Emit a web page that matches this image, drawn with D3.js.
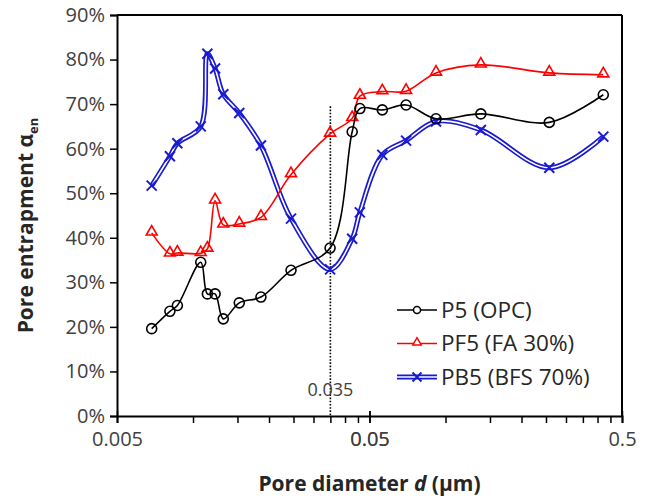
<!DOCTYPE html>
<html>
<head>
<meta charset="utf-8">
<script src="https://cdn.jsdelivr.net/npm/d3@7"></script>
<style>
  body { margin: 0; background: #fff; }
  text { font-family: "Open Sans", "Noto Sans", sans-serif; }
</style>
</head>
<body>
<div id="chart"></div>
<script>
// pore diameters (µm), same for all three series
var diameters = [0.00686, 0.0081, 0.00867, 0.01073, 0.0114, 0.01223, 0.01318, 0.01525, 0.01858,
  0.02444, 0.0349, 0.0427, 0.0458, 0.0562, 0.0698, 0.0917, 0.138, 0.2576, 0.4216]

// pore entrapment in %
var p5 = [19.6, 23.5, 24.8, 34.5, 27.4, 27.4, 21.8, 25.4, 26.7, 32.7, 37.7, 63.8, 69.0, 68.7, 69.8, 66.7, 67.8, 65.9, 72.1]
var pf5 = [41.1, 36.4, 36.6, 36.5, 37.5, 48.3, 42.9, 43.1, 44.6, 54.2, 63.3, 66.8, 71.8, 72.8, 72.9, 77.0, 78.8, 77.0, 76.6]
var pb5 = [51.7, 58.3, 61.2, 65.0, 81.3, 78.0, 72.2, 68.0, 60.7, 44.3, 32.9, 39.8, 45.7, 58.6, 61.8, 66.1, 64.2, 55.7, 62.7]

var yTicks = [0, 10, 20, 30, 40, 50, 60, 70, 80, 90]
var xLabels = [0.005, 0.05, 0.5]
var seriesNames = ["P5 (OPC)", "PF5 (FA 30%)", "PB5 (BFS 70%)"]
var markLine = 0.035

var MARGIN = {TOP: 15, RIGHT: 29, BOTTOM: 82, LEFT: 117},
  WIDTH = 651 - MARGIN.LEFT - MARGIN.RIGHT,
  HEIGHT = 498 - MARGIN.TOP - MARGIN.BOTTOM;

var svg = d3.select("#chart").append("svg")
  .attr("width", 651)
  .attr("height", 498)
  .append("g")
  .attr("transform", "translate(" + MARGIN.LEFT + "," + MARGIN.TOP + ")");

var x = d3.scaleLog().domain([0.005, 0.5]).range([0, WIDTH])
var y = d3.scaleLinear().domain([0, 90]).range([HEIGHT, 0])

// minor ticks every 0.005 / 0.05 like excel log axis
var minor = []
;[0.005, 0.05].forEach(function(b){
  for (var k = 1; k <= 10; k++) minor.push(+(b * k).toPrecision(3))
})

// frame
svg.append("line").attr("x1", 0).attr("x2", WIDTH).attr("y1", 0).attr("y2", 0)
  .style("stroke", "#000").style("stroke-width", 2)
svg.append("line").attr("x1", WIDTH).attr("x2", WIDTH).attr("y1", 0).attr("y2", HEIGHT)
  .style("stroke", "#000").style("stroke-width", 2)

// y axis
var yAxis = svg.append("g")
  .call(d3.axisLeft(y).tickValues(yTicks).tickSize(7).tickPadding(5).tickFormat(function(d){ return d + "%" }))
yAxis.select(".domain").style("stroke", "#000").style("stroke-width", 2)
yAxis.selectAll(".tick line").style("stroke", "#000").style("stroke-width", 1.5)
yAxis.selectAll(".tick text").style("font-size", "20px").style("fill", "#404040")
  .style("font-family", "'Open Sans', sans-serif")

// x axis
var xAxis = svg.append("g")
  .attr("transform", "translate(0," + HEIGHT + ")")
  .call(d3.axisBottom(x).tickValues(minor).tickSize(7).tickPadding(9)
    .tickFormat(function(d){ return xLabels.indexOf(d) >= 0 ? d : "" }))
xAxis.select(".domain").style("stroke", "#000").style("stroke-width", 2)
xAxis.selectAll(".tick line").style("stroke", "#000").style("stroke-width", 1.5)
xAxis.selectAll(".tick text").style("font-size", "20px").style("fill", "#404040")
  .style("font-family", "'Open Sans', sans-serif")
// major ticks cross the axis
xAxis.selectAll(".tick").filter(function(d){ return xLabels.indexOf(d) >= 0 })
  .select("line").attr("y1", -5)

// dotted marker line at 0.035
svg.append("line")
  .attr("x1", x(markLine)).attr("x2", x(markLine))
  .attr("y1", y(69.5)).attr("y2", HEIGHT)
  .style("stroke", "#000").style("stroke-width", 1.6).style("stroke-dasharray", "1.6,1.6")
svg.append("text")
  .attr("x", x(markLine)).attr("y", y(4.6))
  .attr("text-anchor", "middle")
  .style("font-size", "18px").style("fill", "#404040")
  .text(markLine)

var line = d3.line()
  .x(function(d){ return x(d[0]) })
  .y(function(d){ return y(d[1]) })
  .curve(d3.curveCatmullRom.alpha(0.5))

function pts(vals){ return diameters.map(function(d, i){ return [d, vals[i]] }) }

var tri = d3.symbol().type(d3.symbolTriangle).size(52)

// PB5 - double blue line with x markers
svg.append("path").datum(pts(pb5)).attr("d", line)
  .style("fill", "none").style("stroke", "#1a1ad0").style("stroke-width", 5)
svg.append("path").datum(pts(pb5)).attr("d", line)
  .style("fill", "none").style("stroke", "#fff").style("stroke-width", 1.6)
svg.selectAll(".xmark").data(pts(pb5)).enter().append("path")
  .attr("class", "xmark")
  .attr("d", "M-5,-5L5,5M-5,5L5,-5")
  .attr("transform", function(d){ return "translate(" + x(d[0]) + "," + y(d[1]) + ")" })
  .style("stroke", "#1a1ad0").style("stroke-width", 2).style("fill", "none")

// PF5 - red triangles
svg.append("path").datum(pts(pf5)).attr("d", line)
  .style("fill", "none").style("stroke", "#ff0000").style("stroke-width", 1.6)
svg.selectAll(".tri").data(pts(pf5)).enter().append("path")
  .attr("class", "tri")
  .attr("d", tri)
  .attr("transform", function(d){ return "translate(" + x(d[0]) + "," + (y(d[1]) - 1) + ")" })
  .style("stroke", "#ff0000").style("stroke-width", 1.6).style("fill", "none")

// P5 - black circles
svg.append("path").datum(pts(p5)).attr("d", line)
  .style("fill", "none").style("stroke", "#000").style("stroke-width", 1.6)
svg.selectAll(".circ").data(pts(p5)).enter().append("circle")
  .attr("class", "circ")
  .attr("cx", function(d){ return x(d[0]) })
  .attr("cy", function(d){ return y(d[1]) })
  .attr("r", 5)
  .style("stroke", "#000").style("stroke-width", 1.6).style("fill", "none")

// legend
var legend = svg.append("g").attr("transform", "translate(" + (397 - MARGIN.LEFT) + "," + (310 - MARGIN.TOP) + ")")
seriesNames.forEach(function(name, i){
  var g = legend.append("g").attr("transform", "translate(0," + (i * 33.5) + ")")
  if (i == 2){
    g.append("line").attr("x1", 0).attr("x2", 40).style("stroke", "#1a1ad0").style("stroke-width", 5)
    g.append("line").attr("x1", 0).attr("x2", 40).style("stroke", "#fff").style("stroke-width", 1.6)
    g.append("path").attr("d", "M15.5,-4.5L24.5,4.5M15.5,4.5L24.5,-4.5")
      .style("stroke", "#1a1ad0").style("stroke-width", 2)
  } else {
    var c = i == 0 ? "#000" : "#ff0000"
    g.append("line").attr("x1", 0).attr("x2", 40).style("stroke", c).style("stroke-width", 1.6)
    if (i == 0) g.append("circle").attr("cx", 20).attr("r", 3.5).style("stroke", c).style("stroke-width", 1.5).style("fill", "#fff")
    else g.append("path").attr("d", d3.symbol().type(d3.symbolTriangle).size(30)).attr("transform", "translate(20,-1)")
      .style("stroke", c).style("stroke-width", 1.5).style("fill", "#fff")
  }
  g.append("text").attr("x", 44).attr("y", 0).attr("dy", "0.35em")
    .style("font-size", "22.5px").style("fill", "#262626").text(name)
})

// axis titles
var xt = svg.append("text")
  .attr("x", WIDTH / 2).attr("y", HEIGHT + 75)
  .attr("text-anchor", "middle")
  .style("font-size", "21px").style("font-weight", "bold").style("fill", "#262626")
xt.append("tspan").text("Pore diameter ")
xt.append("tspan").style("font-style", "italic").text("d")
xt.append("tspan").text(" (µm)")

var yt = svg.append("text")
  .attr("transform", "translate(" + (-84) + "," + (HEIGHT / 2 + 10) + ") rotate(-90)")
  .attr("text-anchor", "middle")
  .style("font-size", "21px").style("font-weight", "bold").style("fill", "#262626")
yt.append("tspan").text("Pore entrapment  α")
yt.append("tspan").attr("dy", 5).style("font-size", "13px").text("en")
</script>
</body>
</html>
